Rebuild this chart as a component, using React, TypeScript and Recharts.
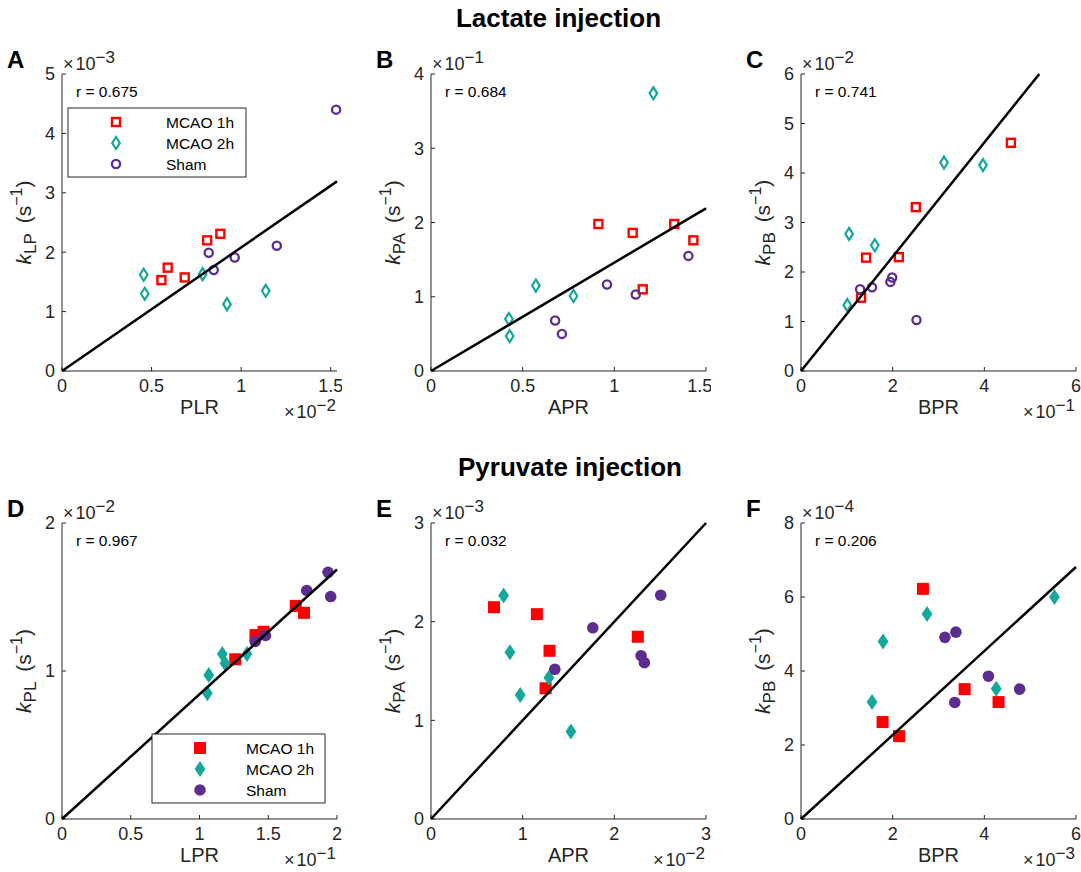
import React from 'react';
import { ScatterChart, Scatter, XAxis, YAxis } from 'recharts';

const FONT = '"Liberation Sans", Arial, Helvetica, sans-serif';
const AX = '#262626';
const RED = '#FF0000';
const TEAL = '#13A89B';
const PURPLE = '#5C2D8E';

type Pt = [number, number];

// values are in axis units (axes carry the x10^n factor)
// A: k_LP vs PLR
const A_1H: Pt[] = [[0.555, 1.53], [0.59, 1.74], [0.685, 1.575], [0.81, 2.2], [0.884, 2.31]];
const A_2H: Pt[] = [[0.456, 1.62], [0.462, 1.3], [0.785, 1.63], [0.921, 1.125], [1.137, 1.35]];
const A_SHAM: Pt[] = [[0.819, 1.99], [0.847, 1.7], [0.964, 1.91], [1.199, 2.11], [1.53, 4.4]];
// B: k_PA vs APR
const B_1H: Pt[] = [[0.913, 1.98], [1.1, 1.86], [1.327, 1.98], [1.431, 1.76], [1.155, 1.1]];
const B_2H: Pt[] = [[0.425, 0.7], [0.429, 0.47], [0.572, 1.15], [0.777, 1.01], [1.213, 3.74]];
const B_SHAM: Pt[] = [[0.677, 0.68], [0.714, 0.5], [0.96, 1.165], [1.117, 1.03], [1.404, 1.55]];
// C: k_PB vs BPR
const C_1H: Pt[] = [[1.31, 1.48], [1.42, 2.29], [2.135, 2.3], [2.505, 3.31], [4.58, 4.61]];
const C_2H: Pt[] = [[1.01, 1.33], [1.05, 2.77], [1.61, 2.54], [3.12, 4.21], [3.97, 4.16]];
const C_SHAM: Pt[] = [[1.29, 1.65], [1.55, 1.69], [1.95, 1.8], [1.99, 1.89], [2.52, 1.03]];
// D: k_PL vs LPR
const D_1H: Pt[] = [[1.26, 1.079], [1.407, 1.243], [1.466, 1.265], [1.7, 1.44], [1.76, 1.393]];
const D_2H: Pt[] = [[1.057, 0.85], [1.067, 0.973], [1.166, 1.115], [1.185, 1.052], [1.345, 1.115]];
const D_SHAM: Pt[] = [[1.405, 1.2], [1.48, 1.24], [1.78, 1.544], [1.935, 1.667], [1.954, 1.503]];
// E: k_PA vs APR
const E_1H: Pt[] = [[0.687, 2.147], [1.155, 2.076], [1.293, 1.705], [1.25, 1.325], [2.256, 1.847]];
const E_2H: Pt[] = [[0.792, 2.265], [0.861, 1.689], [0.973, 1.257], [1.286, 1.432], [1.526, 0.886]];
const E_SHAM: Pt[] = [[1.351, 1.517], [1.765, 1.938], [2.292, 1.655], [2.328, 1.584], [2.506, 2.268]];
// F: k_PB vs BPR
const F_1H: Pt[] = [[1.78, 2.62], [2.14, 2.24], [2.66, 6.22], [3.57, 3.51], [4.31, 3.16]];
const F_2H: Pt[] = [[1.55, 3.16], [1.79, 4.8], [2.75, 5.54], [4.26, 3.52], [5.53, 6.0]];
const F_SHAM: Pt[] = [[3.14, 4.91], [3.38, 5.05], [3.355, 3.15], [4.09, 3.86], [4.77, 3.51]];

const SLOPES = [2.08, 1.46, 1.154, 0.843, 1.0, 1.135];
const R_VALUES = ['0.675', '0.684', '0.741', '0.967', '0.032', '0.206'];
const GROUP_NAMES = ['MCAO 1h', 'MCAO 2h', 'Sham'];

type Kind = 'square' | 'diamond' | 'circle';
const KINDS: Kind[] = ['square', 'diamond', 'circle'];
const COLORS = [RED, TEAL, PURPLE];

const W = 275;

function drawMarker(kind: Kind, color: string, filled: boolean, cx: number, cy: number) {
  if (kind === 'square') {
    return filled ? (
      <rect x={cx - 6} y={cy - 6} width={12} height={12} fill={color} />
    ) : (
      <rect x={cx - 4} y={cy - 4} width={8} height={8} fill="none" stroke={color} strokeWidth={2.4} />
    );
  }
  if (kind === 'diamond') {
    return filled ? (
      <path d={`M${cx},${cy - 8}L${cx + 5.4},${cy}L${cx},${cy + 8}L${cx - 5.4},${cy}Z`} fill={color} />
    ) : (
      <path
        d={`M${cx},${cy - 6}L${cx + 3.8},${cy}L${cx},${cy + 6}L${cx - 3.8},${cy}Z`}
        fill="none"
        stroke={color}
        strokeWidth={2.2}
      />
    );
  }
  return filled ? (
    <circle cx={cx} cy={cy} r={5.8} fill={color} />
  ) : (
    <circle cx={cx} cy={cy} r={4.1} fill="none" stroke={color} strokeWidth={2.3} />
  );
}

interface PanelProps {
  idx: number;
  letter: string;
  pl: number;
  pt: number;
  h: number;
  xMax: number;
  yMax: number;
  xTicks: number[];
  yTicks: number[];
  xName: string;
  ySub: string;
  xExp: string;
  yExp: string;
  sets: Pt[][];
  filled: boolean;
  legend?: { dx: number; dy: number; w: number; labelDx: number };
}

function Panel(p: PanelProps) {
  const slope = SLOPES[p.idx];
  const xEnd = Math.min(p.xMax, p.yMax / slope);
  const fit = [
    { x: 0, y: 0 },
    { x: xEnd, y: xEnd * slope },
  ];
  const tickStyle = { fill: AX, fontSize: 18, fontFamily: FONT };
  const cy = 40 + p.h / 2;

  const yLab = () => (
    <text
      x={31}
      y={cy}
      transform={`rotate(-90 31 ${cy})`}
      textAnchor="middle"
      fill={AX}
      fontFamily={FONT}
      fontSize={21}
    >
      <tspan fontStyle="italic">k</tspan>
      <tspan fontSize={17} dy={5}>
        {p.ySub}
      </tspan>
      <tspan dy={-5} dx={4}>
        {' (s'}
      </tspan>
      <tspan fontSize={16} dy={-9}>
        −1
      </tspan>
      <tspan dy={9}>)</tspan>
    </text>
  );
  const xLab = () => (
    <text x={62 + W / 2} y={40 + p.h + 43} textAnchor="middle" fill={AX} fontFamily={FONT} fontSize={20}>
      {p.xName}
    </text>
  );

  return (
    <>
      <div style={{ position: 'absolute', left: p.pl - 62, top: p.pt - 40 }}>
        <ScatterChart width={62 + W + 5} height={40 + p.h + 60} margin={{ top: 40, right: 5, bottom: 0, left: 0 }}>
          <XAxis
            type="number"
            dataKey="x"
            domain={[0, p.xMax]}
            ticks={p.xTicks}
            height={60}
            tickSize={-4}
            tickMargin={12}
            stroke={AX}
            tick={tickStyle}
            label={xLab}
          />
          <XAxis
            xAxisId="top"
            orientation="top"
            type="number"
            dataKey="x"
            domain={[0, p.xMax]}
            ticks={p.xTicks}
            allowDataOverflow
            height={0}
            tickSize={-4}
            tick={false}
            stroke={AX}
          />
          <YAxis
            type="number"
            dataKey="y"
            domain={[0, p.yMax]}
            ticks={p.yTicks}
            width={62}
            tickSize={-4}
            tickMargin={11}
            stroke={AX}
            tick={tickStyle}
            label={yLab}
          />
          <YAxis
            yAxisId="right"
            orientation="right"
            type="number"
            dataKey="y"
            domain={[0, p.yMax]}
            ticks={p.yTicks}
            allowDataOverflow
            width={0}
            tickSize={-4}
            tick={false}
            stroke={AX}
          />
          {p.sets.map((s, i) => (
            <Scatter
              key={i}
              name={GROUP_NAMES[i]}
              data={s.map(([x, y]) => ({ x, y }))}
              isAnimationActive={false}
              shape={(props: any) => drawMarker(KINDS[i], COLORS[i], p.filled, props.cx, props.cy)}
            />
          ))}
          <Scatter
            data={fit}
            line={{ stroke: '#000', strokeWidth: 2.5 }}
            shape={() => <g />}
            isAnimationActive={false}
          />
        </ScatterChart>
      </div>
      <svg
        width={1081}
        height={872}
        style={{ position: 'absolute', left: 0, top: 0, pointerEvents: 'none', overflow: 'visible' }}
      >
        <text x={p.pl - 55} y={p.pt - 6} fontFamily={FONT} fontWeight="bold" fontSize={24} fill="#000">
          {p.letter}
        </text>
        <text x={p.pl + 1} y={p.pt - 4} fontFamily={FONT} fontSize={18} fill={AX}>
          ×
          <tspan dx={2}>10</tspan>
          <tspan dy={-7} fontSize={17}>
            {p.yExp}
          </tspan>
        </text>
        {p.xExp && (
          <text x={p.pl + W - 1} y={p.pt + p.h + 47} textAnchor="end" fontFamily={FONT} fontSize={18} fill={AX}>
            ×
            <tspan dx={2}>10</tspan>
            <tspan dy={-7} fontSize={17}>
              {p.xExp}
            </tspan>
          </text>
        )}
        <text x={p.pl + 14} y={p.pt + 23} fontFamily={FONT} fontSize={15.5} fill="#000">
          r = {R_VALUES[p.idx]}
        </text>
        {p.legend && (
          <g>
            <rect
              x={p.pl + p.legend.dx}
              y={p.pt + p.legend.dy}
              width={p.legend.w}
              height={69}
              fill="#fff"
              stroke={AX}
              strokeWidth={1}
            />
            {GROUP_NAMES.map((n, i) => {
              const ry = p.pt + p.legend!.dy + 14 + i * 21;
              return (
                <g key={n}>
                  {drawMarker(KINDS[i], COLORS[i], p.filled, p.pl + p.legend!.dx + 48, ry)}
                  <text
                    x={p.pl + p.legend!.dx + p.legend!.labelDx}
                    y={ry + 5.5}
                    fontFamily={FONT}
                    fontSize={15.5}
                    fill="#000"
                  >
                    {n}
                  </text>
                </g>
              );
            })}
          </g>
        )}
      </svg>
    </>
  );
}

export default function App() {
  return (
    <div
      style={{
        position: 'absolute',
        left: 0,
        top: 0,
        width: 1081,
        height: 872,
        background: '#fff',
        overflow: 'hidden',
        fontFamily: FONT,
      }}
    >
      <Panel
        idx={0}
        letter="A"
        pl={62}
        pt={74}
        h={297}
        xMax={1.535}
        yMax={5}
        xTicks={[0, 0.5, 1, 1.5]}
        yTicks={[0, 1, 2, 3, 4, 5]}
        xName="PLR"
        ySub="LP"
        xExp="−2"
        yExp="−3"
        sets={[A_1H, A_2H, A_SHAM]}
        filled={false}
        legend={{ dx: 6, dy: 34, w: 178, labelDx: 98 }}
      />
      <Panel
        idx={1}
        letter="B"
        pl={431}
        pt={74}
        h={297}
        xMax={1.5}
        yMax={4}
        xTicks={[0, 0.5, 1, 1.5]}
        yTicks={[0, 1, 2, 3, 4]}
        xName="APR"
        ySub="PA"
        xExp=""
        yExp="−1"
        sets={[B_1H, B_2H, B_SHAM]}
        filled={false}
      />
      <Panel
        idx={2}
        letter="C"
        pl={801}
        pt={74}
        h={297}
        xMax={6}
        yMax={6}
        xTicks={[0, 2, 4, 6]}
        yTicks={[0, 1, 2, 3, 4, 5, 6]}
        xName="BPR"
        ySub="PB"
        xExp="−1"
        yExp="−2"
        sets={[C_1H, C_2H, C_SHAM]}
        filled={false}
      />
      <Panel
        idx={3}
        letter="D"
        pl={62}
        pt={523}
        h={296}
        xMax={2}
        yMax={2}
        xTicks={[0, 0.5, 1, 1.5, 2]}
        yTicks={[0, 1, 2]}
        xName="LPR"
        ySub="PL"
        xExp="−1"
        yExp="−2"
        sets={[D_1H, D_2H, D_SHAM]}
        filled={true}
        legend={{ dx: 90, dy: 211, w: 173, labelDx: 94 }}
      />
      <Panel
        idx={4}
        letter="E"
        pl={431}
        pt={523}
        h={296}
        xMax={3}
        yMax={3}
        xTicks={[0, 1, 2, 3]}
        yTicks={[0, 1, 2, 3]}
        xName="APR"
        ySub="PA"
        xExp="−2"
        yExp="−3"
        sets={[E_1H, E_2H, E_SHAM]}
        filled={true}
      />
      <Panel
        idx={5}
        letter="F"
        pl={801}
        pt={523}
        h={296}
        xMax={6}
        yMax={8}
        xTicks={[0, 2, 4, 6]}
        yTicks={[0, 2, 4, 6, 8]}
        xName="BPR"
        ySub="PB"
        xExp="−3"
        yExp="−4"
        sets={[F_1H, F_2H, F_SHAM]}
        filled={true}
      />
      <svg width={1081} height={872} style={{ position: 'absolute', left: 0, top: 0, pointerEvents: 'none' }}>
        <text x={558.5} y={27} textAnchor="middle" fontFamily={FONT} fontWeight="bold" fontSize={26} fill="#000">
          Lactate injection
        </text>
        <text x={570} y={476} textAnchor="middle" fontFamily={FONT} fontWeight="bold" fontSize={26} fill="#000">
          Pyruvate injection
        </text>
      </svg>
    </div>
  );
}
